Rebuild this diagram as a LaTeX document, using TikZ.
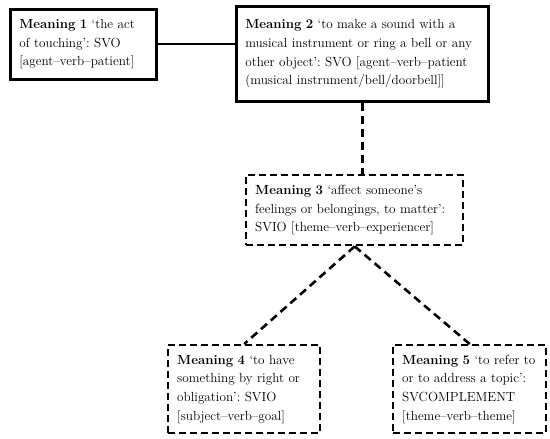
\documentclass[tikz,border=0pt]{standalone}
\usepackage{fontspec}
\setmainfont{Latin Modern Roman}
\frenchspacing
\usetikzlibrary{positioning}

\begin{document}
\begin{tikzpicture}[x=1pt, y=-1pt, font=\fontsize{13.2}{18.7}\selectfont,
  meaning/.style={draw, line width=2.6pt, anchor=north west, align=left, inner xsep=9pt, inner ysep=0pt},
  weak/.style={meaning, line width=2.4pt, dash pattern=on 7pt off 4pt},
  link/.style={line width=2pt},
  dlink/.style={line width=2.6pt, dash pattern=on 8pt off 5pt}]
\useasboundingbox (0,0) rectangle (550,439);

\node[meaning, minimum width=146pt, minimum height=70pt, text width=128pt] at (9,8) (m1)
  {\textbf{Meaning 1} `the act\\ of touching': SVO\\ {[}agent--verb--patient{]}};
\node[meaning, minimum width=252pt, minimum height=95pt, text width=234pt] at (235,5) (m2)
  {\textbf{Meaning 2} `to make a sound with a\\ musical instrument or ring a bell or any\\ other object': SVO {[}agent--verb--patient\\ (musical instrument/bell/doorbell{]}{]}};
\node[weak, minimum width=217pt, minimum height=70pt, text width=199pt] at (245,174) (m3)
  {\textbf{Meaning 3} `affect someone's\\ feelings or belongings, to matter':\\ SVIO {[}theme--verb--experiencer{]}};
\node[weak, minimum width=152pt, minimum height=88pt, text width=134pt] at (167,344) (m4)
  {\textbf{Meaning 4} `to have\\ something by right or\\ obligation': SVIO\\ {[}subject--verb--goal{]}};
\node[weak, minimum width=153pt, minimum height=88pt, text width=135pt] at (392,344) (m5)
  {\textbf{Meaning 5} `to refer to\\ or to address a topic':\\ SVCOMPLEMENT\\ {[}theme--verb--theme{]}};

% solid link between the first two meanings
\draw[link] (m1.east) -- (m1.east -| m2.west);

% dashed extensions
\draw[dlink] (m2.south) -- (m2.south |- m3.north);
\draw[dlink] (m3.south) -- (m4.north);
\draw[dlink] (m3.south) -- (m5.north);
\end{tikzpicture}
\end{document}
